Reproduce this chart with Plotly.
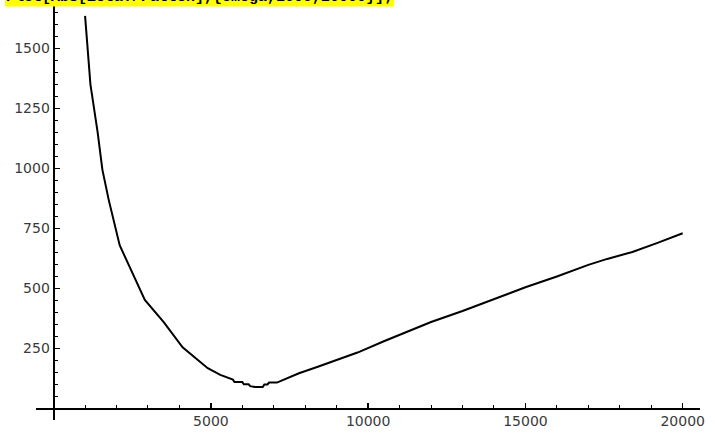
import plotly.graph_objects as go

# Data
omega = [1000, 1170, 1400, 1550, 1750, 2100, 2900, 3500, 4100, 4600, 4900, 5300, 5550,
         5700, 5750, 6000, 6050, 6200, 6250, 6400, 6650, 6700, 6800, 6850, 7100,
         7800, 8400, 9000, 9661, 10500, 11200, 12000, 13000, 14000, 15000, 16000,
         17000, 17600, 18400, 19200, 20000]
zeta = [1635, 1350, 1150, 995, 870, 680, 452, 360, 255, 202, 168, 140, 127,
        120, 110, 110, 101, 101, 93, 90, 90, 100, 100, 108, 108,
        147, 174, 203, 233, 280, 318, 360, 406, 455, 505, 550,
        598, 623, 652, 690, 730]

x_ticks = [5000, 10000, 15000, 20000]
y_ticks = [250, 500, 750, 1000, 1250, 1500]
title_text = "Plot[Abs[ZetaT/Patten],{omega,1000,20000}];"

W, H = 715, 434
fig = go.Figure()
fig.add_trace(go.Scatter(x=omega, y=zeta, mode="lines",
                         line=dict(color="black", width=2), hoverinfo="skip"))

# pixel geometry
x0_px, x1_px = 36.7, 705.0
px_per_x = 0.031675
xzero_px = 54.0
xr = [(x0_px - xzero_px) / px_per_x, (x1_px - xzero_px) / px_per_x]

y_top_px, y_bot_px = 0.0, 420.0
yzero_px = 408.5
px_per_y = 0.2401
yr = [(yzero_px - y_bot_px) / px_per_y, (yzero_px - y_top_px) / px_per_y]

tickfont = dict(family="DejaVu Sans", size=14, color="#3a3a3a")

fig.update_layout(
    width=W, height=H,
    margin=dict(l=0, r=0, t=0, b=0),
    paper_bgcolor="white", plot_bgcolor="white",
    showlegend=False,
    xaxis=dict(
        domain=[x0_px / W, x1_px / W], range=xr,
        anchor="free", position=1 - yzero_px / H,
        showgrid=False, zeroline=False,
        showline=True, linecolor="black", linewidth=2,
        tickvals=x_ticks, ticktext=[str(v) for v in x_ticks],
        ticks="inside", ticklen=5, tickwidth=1.5, tickcolor="black",
        minor=dict(dtick=1000, tick0=0, ticks="inside", ticklen=3,
                   tickwidth=1, tickcolor="black", showgrid=False),
        tickfont=tickfont,
    ),
    yaxis=dict(
        domain=[1 - y_bot_px / H, 1 - y_top_px / H], range=yr,
        anchor="free", position=xzero_px / W,
        showgrid=False, zeroline=False,
        showline=True, linecolor="black", linewidth=2,
        tickvals=y_ticks, ticktext=[str(v) for v in y_ticks],
        ticks="inside", ticklen=5, tickwidth=1.5, tickcolor="black",
        minor=dict(dtick=50, tick0=0, ticks="inside", ticklen=3,
                   tickwidth=1, tickcolor="black", showgrid=False),
        tickfont=tickfont,
    ),
)

# yellow highlighted input line, mostly scrolled off the top
fig.add_shape(type="rect", xref="paper", yref="paper",
              x0=5 / W, x1=397 / W, y0=1 - 6.5 / H, y1=1.01,
              fillcolor="#ffff00", line=dict(width=0), layer="above")
fig.add_annotation(
    text="<b>" + title_text + "</b>", xref="paper", yref="paper",
    x=5 / W, y=1 - 7 / H, xanchor="left", yanchor="bottom",
    showarrow=False, borderpad=0,
    font=dict(family="Liberation Mono", size=15, color="black"),
)

fig.write_html("out.html",
               config={"displayModeBar": False, "staticPlot": True},
               post_script="document.body.style.margin='0';document.body.style.overflow='hidden';")
